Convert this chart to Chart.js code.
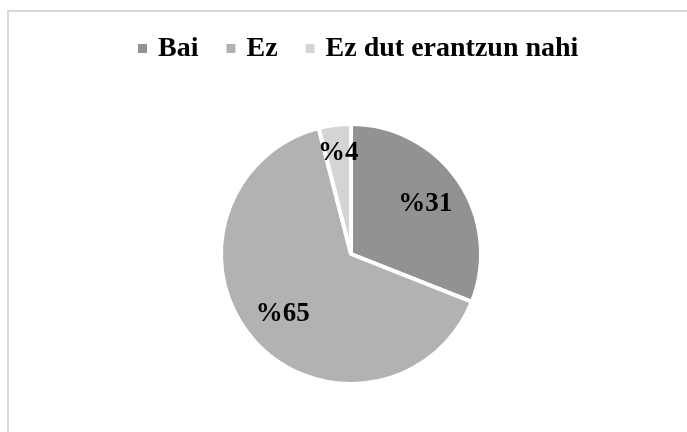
<!DOCTYPE html>
<html>
<head>
<meta charset="utf-8">
<script src="https://cdn.jsdelivr.net/npm/chart.js@4.4.1/dist/chart.umd.min.js"></script>
<style>
  html, body { margin: 0; padding: 0; background: #fff; overflow: hidden; }
  #frame { position: absolute; left: 7px; top: 10px; width: 760px; height: 500px;
           border-left: 2px solid #d9d9d9; border-top: 2px solid #d9d9d9; }
  #wrap { position: absolute; left: 0; top: 0; width: 687px; height: 436px; }
</style>
</head>
<body>
<div id="frame"></div>
<div id="wrap"><canvas id="chartCanvas"></canvas></div>
<script>
"use strict";

const categories = ['Bai', 'Ez', 'Ez dut erantzun nahi'];
const percentValues = [31, 65, 4];
const sliceColors = ['#929292', '#b2b2b2', '#d4d4d4'];

const serif = "'Liberation Serif', 'Times New Roman', serif";

// draws the "%31" style labels inside each slice
const sliceLabels = {
    id: 'sliceLabels',
    afterDatasetsDraw(chart, args, opts) {
        const ctx = chart.ctx;
        const meta = chart.getDatasetMeta(0);
        ctx.save();
        ctx.font = opts.font;
        ctx.fillStyle = opts.color;
        ctx.textAlign = 'center';
        ctx.textBaseline = 'middle';
        meta.data.forEach((arc, i) => {
            const p = arc.getProps(['x', 'y', 'startAngle', 'endAngle', 'outerRadius'], true);
            const mid = (p.startAngle + p.endAngle) / 2;
            const r = p.outerRadius * opts.radiusFactors[i];
            ctx.fillText('%' + percentValues[i], p.x + Math.cos(mid) * r, p.y + Math.sin(mid) * r);
        });
        ctx.restore();
    }
};

const ctx = document.getElementById('chartCanvas');

const data = {
    labels: categories,
    datasets: [{
        data: percentValues,
        backgroundColor: sliceColors,
        borderColor: '#ffffff',
        borderWidth: 4,
        radius: 130
    }]
};

const config = {
    type: 'pie',
    data: data,
    plugins: [sliceLabels],
    options: {
        responsive: true,
        maintainAspectRatio: false,
        animation: false,
        layout: {
            padding: { top: 3.5, left: 32.4, right: 0, bottom: 0.5 }
        },
        plugins: {
            legend: {
                position: 'top',
                labels: {
                    usePointStyle: true,
                    pointStyle: 'rect',
                    boxWidth: 3,
                    boxHeight: 9,
                    padding: 31,
                    color: '#000',
                    font: { family: serif, size: 28, weight: 'bold' },
                    generateLabels(chart) {
                        const items = Chart.overrides.doughnut.plugins.legend.labels.generateLabels(chart);
                        items.forEach(it => { it.lineWidth = 0; it.strokeStyle = 'rgba(0,0,0,0)'; });
                        return items;
                    }
                }
            },
            // empty title on the right only nudges the pie left of the legend centre
            title: {
                display: true,
                position: 'right',
                fullSize: false,
                text: ' ',
                font: { size: 10 },
                padding: { top: 5.4, bottom: 0 }
            },
            tooltip: { enabled: false },
            sliceLabels: {
                font: 'bold 27px ' + serif,
                color: '#000',
                radiusFactors: [0.69, 0.70, 0.78]
            }
        }
    }
};

new Chart(ctx, config);
</script>
</body>
</html>
